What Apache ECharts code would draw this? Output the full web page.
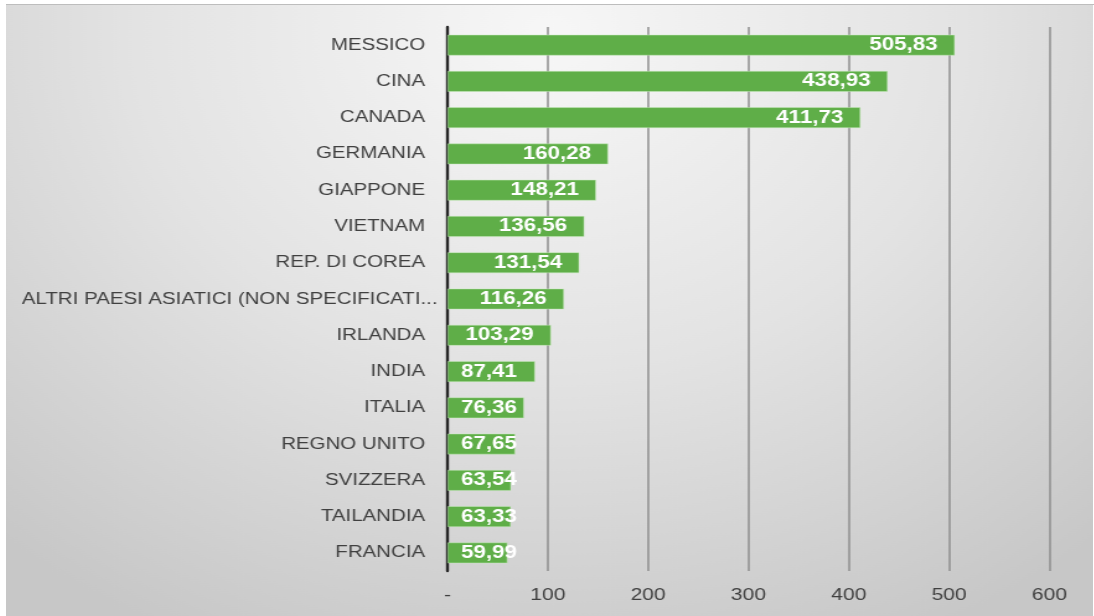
<!DOCTYPE html>
<html>
<head>
<meta charset="utf-8">
<script src="https://cdn.jsdelivr.net/npm/echarts@6/dist/echarts.min.js"></script>
<style>
  html, body { margin: 0; padding: 0; background: #ffffff; }
  body { width: 1094px; height: 616px; overflow: hidden; position: relative; }
  #panel {
    position: absolute; left: 6px; top: 4px; width: 1088px; height: 612px;
    border-top: 1px solid #bdbdbd; box-sizing: border-box; overflow: hidden;
  }
  /* The chart is laid out on a narrower canvas and widened horizontally */
  #chart {
    position: absolute; left: 0; top: 0; width: 877.4px; height: 611px;
    transform: scaleX(1.24); transform-origin: 0 0;
  }
</style>
</head>
<body>
<div id="panel"><div id="chart"></div></div>
<script>
// Paesi di provenienza, in ordine decrescente
const categories = [
  'MESSICO', 'CINA', 'CANADA', 'GERMANIA', 'GIAPPONE', 'VIETNAM',
  'REP. DI COREA', 'ALTRI PAESI ASIATICI (NON SPECIFICATI...', 'IRLANDA',
  'INDIA', 'ITALIA', 'REGNO UNITO', 'SVIZZERA', 'TAILANDIA', 'FRANCIA'
];
const values = [
  505.83, 438.93, 411.73, 160.28, 148.21, 136.56,
  131.54, 116.26, 103.29, 87.41, 76.36, 67.65, 63.54, 63.33, 59.99
];
const xTicks = [0, 100, 200, 300, 400, 500, 600];

const FONT = '"Liberation Sans", Arial, sans-serif';
const fmt = v => v.toFixed(2).replace('.', ',');

// Short bars keep their value anchored near the axis, long bars at the bar end
const barData = values.map(v => (v < 100
  ? { value: v, label: { position: 'insideLeft', distance: 11 } }
  : { value: v }));

const chart = echarts.init(document.getElementById('chart'), null, { renderer: 'canvas' });
chart.setOption({
  animation: false,
  backgroundColor: {
    type: 'radial', x: 0.5, y: 0.05, r: 1.1,
    colorStops: [
      { offset: 0, color: '#f7f7f7' },
      { offset: 0.5, color: '#e3e3e3' },
      { offset: 1, color: '#c7c7c7' }
    ]
  },
  grid: { left: 356, right: 35.5, top: 22, bottom: 45, containLabel: false },
  xAxis: {
    type: 'value',
    min: xTicks[0],
    max: xTicks[xTicks.length - 1],
    interval: xTicks[1] - xTicks[0],
    axisLine: { show: false },
    axisTick: { show: false },
    splitLine: { show: true, lineStyle: { color: '#8e8e8e', width: 1.5 } },
    axisLabel: {
      color: '#404040', fontSize: 17, fontFamily: FONT, margin: 16,
      formatter: v => (v === 0 ? '-' : String(v))
    }
  },
  yAxis: {
    type: 'category',
    inverse: true,
    data: categories,
    axisLine: { show: true, lineStyle: { color: '#262626', width: 2.4 } },
    axisTick: { show: false },
    axisLabel: {
      color: '#404040', fontSize: 16.5, fontFamily: FONT, margin: 18,
      // the long label sits closer to the axis line
      formatter: name => (name.length > 30 ? '{long|' + name + '}' : name),
      rich: {
        long: { color: '#404040', fontSize: 16.5, fontFamily: FONT, padding: [0, -10, 0, 0] }
      }
    }
  },
  series: [{
    type: 'bar',
    data: barData,
    barWidth: 21,
    itemStyle: { color: '#5fae48', borderColor: 'rgba(200,235,190,0.6)', borderWidth: 0.8 },
    label: {
      show: true,
      position: 'insideRight',
      distance: 14,
      color: '#ffffff',
      fontWeight: 'bold',
      fontSize: 18,
      fontFamily: FONT,
      formatter: p => fmt(p.value)
    },
    z: 3
  }]
});
</script>
</body>
</html>
